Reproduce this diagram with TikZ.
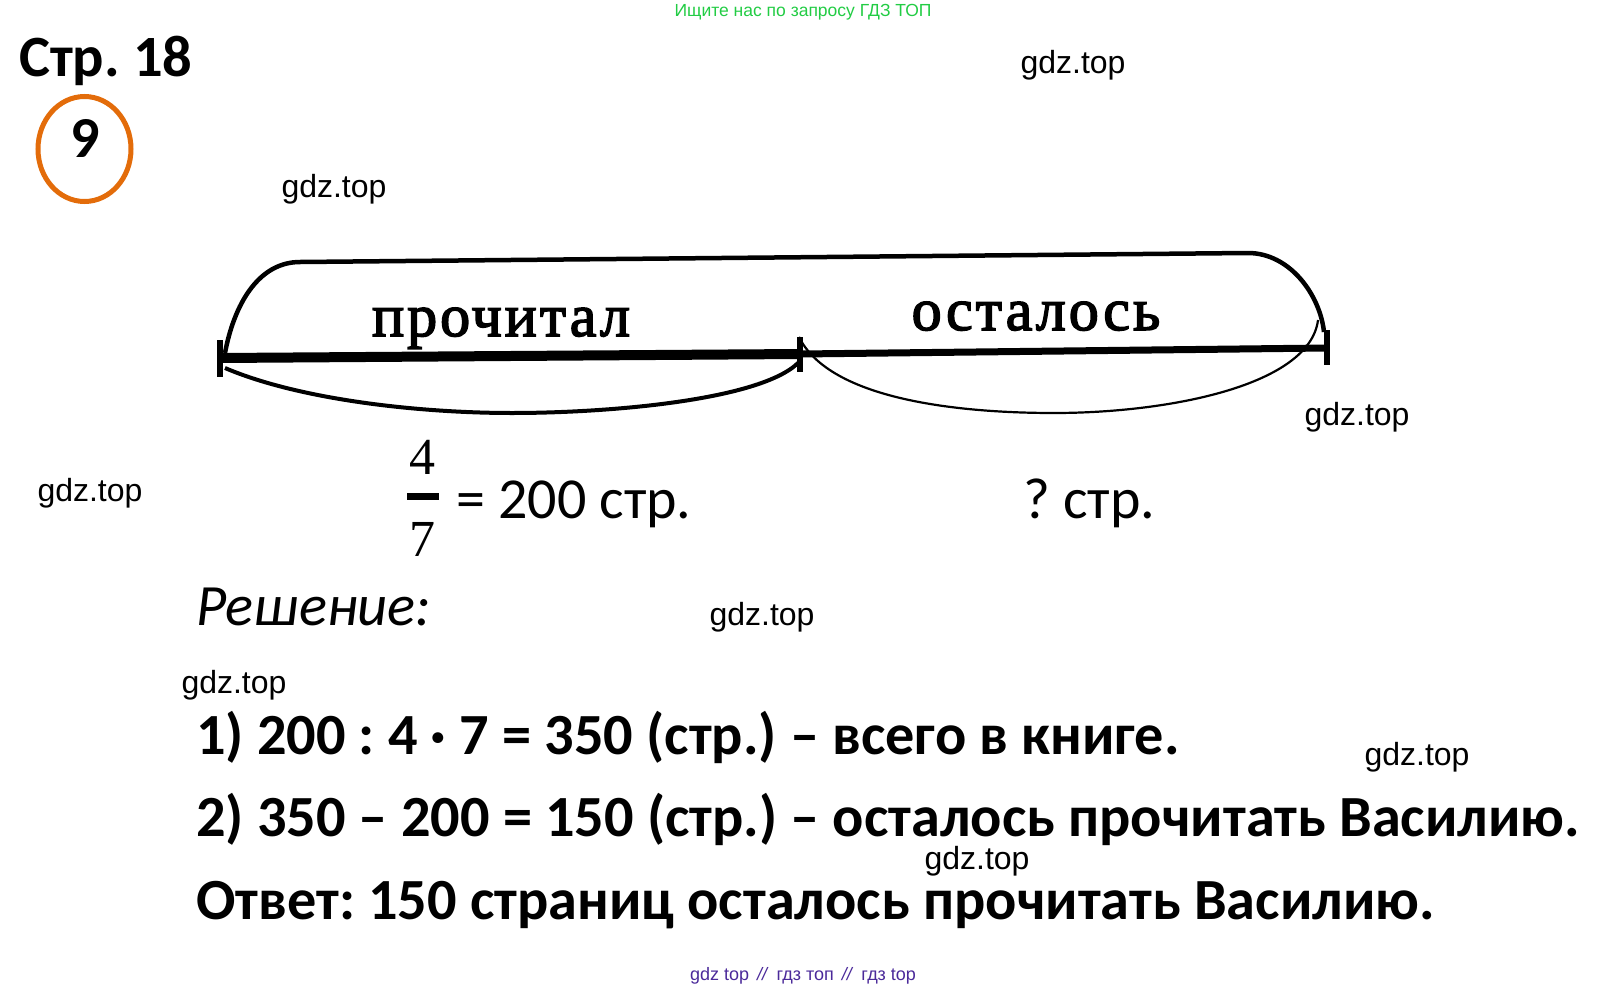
\documentclass[tikz,border=0pt]{standalone}
\usepackage{fontspec}
\setmainfont{Carlito}
\newfontfamily\scanfont[LetterSpace=5,FakeBold=2.5]{Liberation Serif}
\newfontfamily\figfont{Liberation Serif}
\newfontfamily\markfont{Liberation Sans}
\frenchspacing
\definecolor{ringorange}{HTML}{E36C0A}
\definecolor{topgreen}{HTML}{22CC44}
\definecolor{linkblue}{HTML}{4B2A9A}
\tikzset{
  mark label/.style={anchor=base,font=\markfont\fontsize{32}{32}\selectfont},
  scan label/.style={anchor=base,font=\scanfont\fontsize{60}{60}\selectfont},
  plain label/.style={anchor=base west,font=\fontsize{58}{58}\selectfont},
  step label/.style={anchor=base west,font=\bfseries\fontsize{58.3}{58.3}\selectfont},
}

\begin{document}
\begin{tikzpicture}[x=1pt,y=-1pt]
  \useasboundingbox (0,0) rectangle (1608,990);

  \node [anchor=base,text=topgreen,font=\markfont\fontsize{17.5}{17.5}\selectfont] (top) at (803,17) {Ищите нас по запросу ГДЗ ТОП};
  \node [anchor=base west,font=\bfseries\fontsize{58.5}{58.5}\selectfont,inner sep=0pt] (page) at (19,76) {Стр. 18};

  \draw [ringorange,line width=5pt] (84.5,149) ellipse (46.5 and 52.5);
  \node [anchor=base,font=\bfseries\fontsize{58}{58}\selectfont] (num) at (85,157) {9};

  % the marks
  \node [mark label] (m1) at (1073,74) {gdz.top};
  \node [mark label] (m2) at (334,197) {gdz.top};
  \node [mark label] (m3) at (1357,425) {gdz.top};
  \node [mark label] (m4) at (90,501) {gdz.top};
  \node [mark label] (m5) at (762,625) {gdz.top};
  \node [mark label] (m6) at (234,693) {gdz.top};
  \node [mark label] (m7) at (1417,765) {gdz.top};
  \node [mark label] (m8) at (977,869) {gdz.top};

  % the scheme
  \coordinate (a) at (220,358);
  \coordinate (b) at (800,354);
  \coordinate (c) at (1327,348);

  \draw [line width=10pt] (a) -- (b);
  \draw [line width=7pt] (b) -- (c);
  \draw [line width=6pt] (220,340) -- (220,377);
  \draw [line width=6pt] (800,337) -- (800,372);
  \draw [line width=6pt] (1327,330) -- (1327,365);

  \draw [line width=4.5pt] (225,353) .. controls (234,305) and (258,262) .. (300,262)
    -- (1248,253) .. controls (1290,253) and (1320,295) .. (1324,332);
  \draw [line width=4pt] (225,368) .. controls (300,400) and (420,413) .. (512,413)
    .. controls (610,413) and (760,400) .. (798,363);
  \draw [line width=2.2pt] (799,337) .. controls (830,400) and (960,413) .. (1054,413)
    .. controls (1170,413) and (1310,385) .. (1318,320);

  \node [scan label] (read) at (501,336) {прочитал};
  \node [scan label] (left) at (1036,330) {осталось};

  % under the scheme
  \node [anchor=base,font=\figfont\fontsize{52}{52}\selectfont] (four) at (422,474) {4};
  \node [anchor=base,font=\figfont\fontsize{52}{52}\selectfont] (seven) at (422,556) {7};
  \draw [line width=6.5pt] (407,496.5) -- (439,496.5);
  \node [plain label,inner sep=0pt] (pages) at (456,518) {= 200 стр.};
  \node [plain label,inner sep=0pt] (rest) at (1023,518) {? стр.};

  \node [anchor=base west,inner sep=0pt,font=\itshape\fontsize{58.5}{58.5}\selectfont] (sol) at (196,625) {Решение:};
  \node [step label,inner sep=0pt] (s1) at (196,754) {1) 200 : 4 · 7 = 350 (стр.) -- всего в книге.};
  \node [step label,inner sep=0pt] (s2) at (196,836) {2) 350 -- 200 = 150 (стр.) -- осталось прочитать Василию.};
  \node [step label,inner sep=0pt] (s3) at (196,919) {Ответ: 150 страниц осталось прочитать Василию.};

  \node [anchor=base,text=linkblue,font=\markfont\fontsize{18}{18}\selectfont] (bottom) at (803,980) {gdz top \,\textit{//}\, гдз топ \,\textit{//}\, гдз top};
\end{tikzpicture}
\end{document}
